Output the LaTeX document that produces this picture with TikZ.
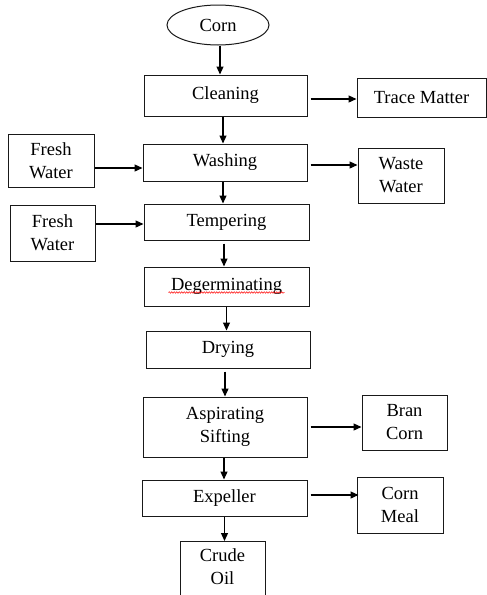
\documentclass[tikz,border=0pt]{standalone}
\usepackage{fontspec}
\setmainfont{Liberation Serif}
\usetikzlibrary{arrows.meta,decorations.pathmorphing,shapes.geometric}
\begin{document}
\begin{tikzpicture}[x=1pt,y=-1pt,
 txtfont/.style={font=\fontsize{18.5}{23}\selectfont},
 box/.style={draw=black!90, line width=1pt, rectangle, inner sep=0pt, align=center, txtfont},
 oval/.style={draw=black!90, line width=1pt, ellipse, inner sep=0pt, txtfont},
 arr/.style={draw=black, line width=1.2pt, -{Triangle[length=8pt,width=7pt]}}]
\fill[white] (0,0) rectangle (487,595);
\useasboundingbox (0,0) rectangle (487,595);
\clip (0,0) rectangle (487,595);

\node[oval, minimum width=102pt, minimum height=40pt] (corn) at (218,25) {Corn};
\node[box, minimum width=163pt, minimum height=41pt] (clean) at (225.5,95.5) {Cleaning};
\node[box, minimum width=129pt, minimum height=39pt] (trace) at (421.5,97.5) {Trace Matter};
\node[box, minimum width=164pt, minimum height=37pt] (wash) at (225,162.5) {Washing};
\node[box, minimum width=86pt, minimum height=53pt] (fw1) at (51,160.5) {Fresh\\Water};
\node[box, minimum width=86pt, minimum height=55pt] (waste) at (401,175.5) {Waste\\Water};
\node[box, minimum width=165pt, minimum height=36pt] (temper) at (226.5,222) {Tempering};
\node[box, minimum width=85pt, minimum height=56pt] (fw2) at (52.5,233) {Fresh\\Water};
\node[box, minimum width=165pt, minimum height=39pt] (degerm) at (226.5,286.5) {Degerminating};
\node[box, minimum width=164pt, minimum height=37pt] (dry) at (228,349.5) {Drying};
\node[box, minimum width=164pt, minimum height=60pt] (asp) at (225,427) {Aspirating\\Sifting};
\node[box, minimum width=85pt, minimum height=55pt] (bran) at (404.5,422.5) {Bran\\Corn};
\node[box, minimum width=165pt, minimum height=36pt] (exp) at (224.5,498) {Expeller};
\node[box, minimum width=86pt, minimum height=56pt] (meal) at (400,505) {Corn\\Meal};
\node[box, minimum width=85pt, minimum height=75pt, anchor=north,
  label={[txtfont, align=center, anchor=center, yshift=-26pt]north:Crude\\Oil}] (crude) at (222.5,541) {};

% spell-check underline
\draw[red, line width=0.5pt, decorate, decoration={snake, amplitude=0.8pt, segment length=2.5pt}]
  ([xshift=-58pt,yshift=-6pt]degerm.center) -- ([xshift=58pt,yshift=-6pt]degerm.center);

% vertical flow
\draw[arr] ([xshift=2pt]corn.south) -- ([xshift=2pt]corn.south |- clean.north);
\draw[arr] ([xshift=-2.5pt]clean.south) -- ([xshift=-2.5pt]clean.south |- wash.north);
\draw[arr] ([xshift=-2pt]wash.south) -- ([xshift=-2pt]wash.south |- temper.north);
\draw[arr] ([xshift=-2.5pt,yshift=-3pt]temper.south) -- ([xshift=-2.5pt]temper.south |- degerm.north);
\draw[arr] (degerm.south) -- (degerm.south |- dry.north);
\draw[arr] ([xshift=-3pt,yshift=-3pt]dry.south) -- ([xshift=-3pt]dry.south |- asp.north);
\draw[arr] ([xshift=-1pt]asp.south) -- ([xshift=-1pt]asp.south |- exp.north);
\draw[arr] (exp.south) -- (exp.south |- crude.north);

% side flows
\draw[arr] ([xshift=3pt]clean.east |- 0,99) -- (trace.west |- 0,99);
\draw[arr] (fw1.east |- 0,168) -- (wash.west |- 0,168);
\draw[arr] ([xshift=3pt]wash.east |- 0,165) -- (waste.west |- 0,165);
\draw[arr] (fw2.east |- 0,224) -- (temper.west |- 0,224);
\draw[arr] ([xshift=3pt]asp.east |- 0,427) -- (bran.west |- 0,427);
\draw[arr] ([xshift=3pt]exp.east |- 0,495) -- ([xshift=2pt]meal.west |- 0,495);
\end{tikzpicture}
\end{document}
